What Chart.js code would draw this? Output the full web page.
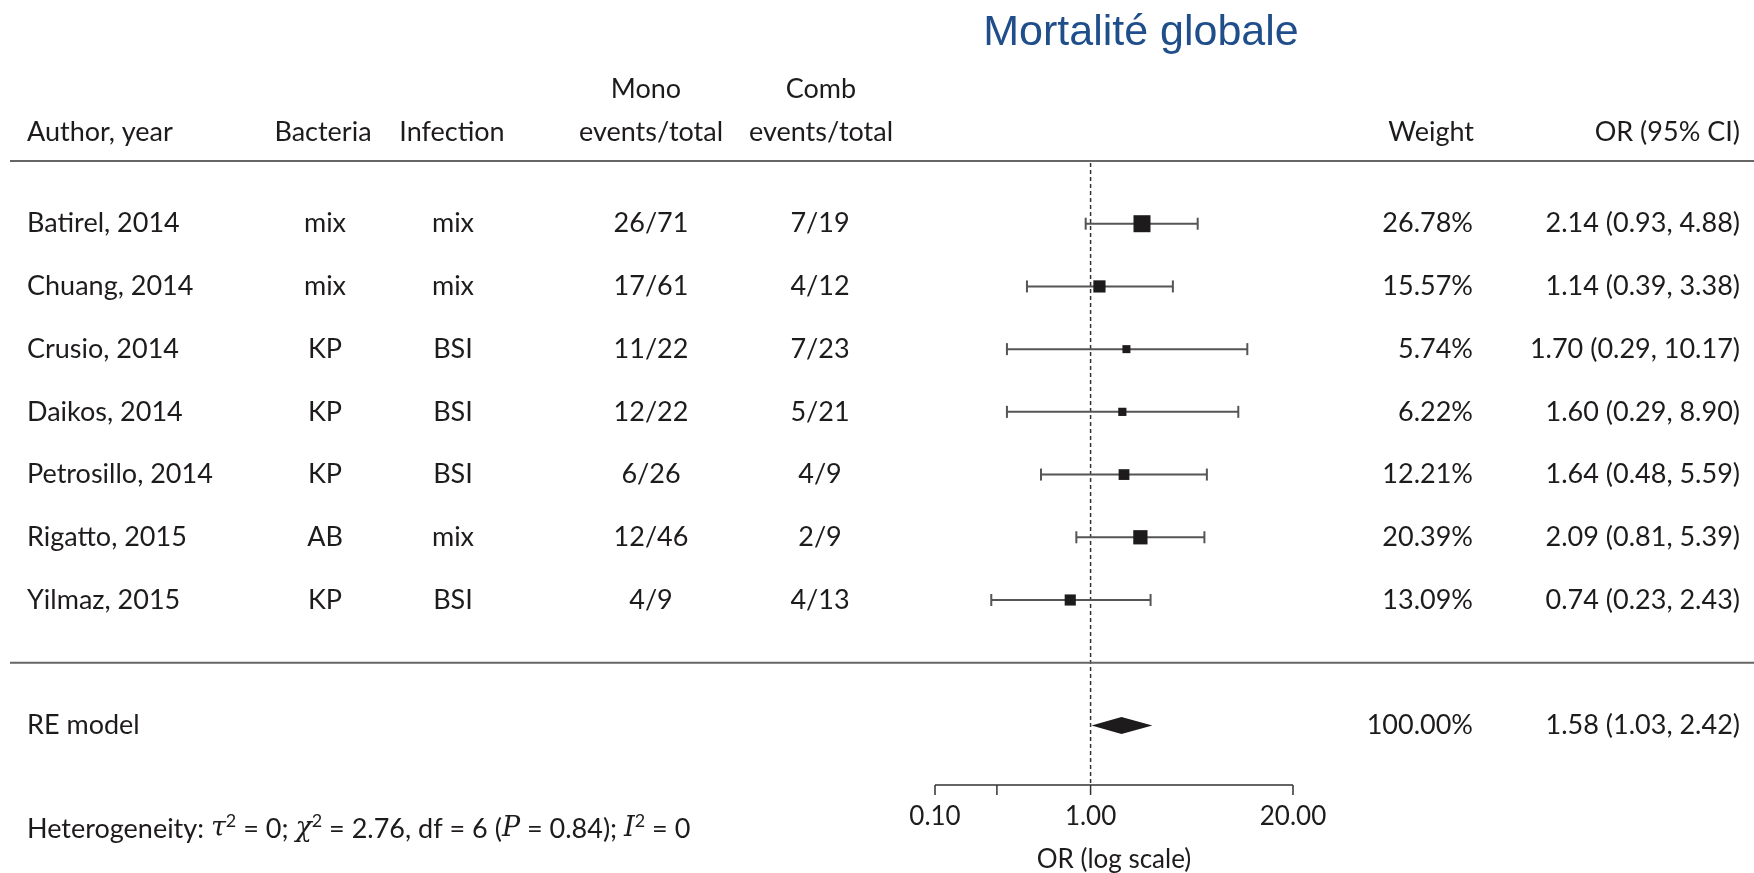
<!DOCTYPE html>
<html>
<head>
<meta charset="utf-8">
<script src="https://cdn.jsdelivr.net/npm/chart.js@4.4.1/dist/chart.umd.min.js"></script>
<style>
  html, body { margin: 0; padding: 0; background: #fff; }
  #forest { display: block; }
</style>
</head>
<body>
<canvas id="forest" width="1754" height="873"></canvas>
<script>
// study rows
const authors = ['Batirel, 2014', 'Chuang, 2014', 'Crusio, 2014', 'Daikos, 2014', 'Petrosillo, 2014', 'Rigatto, 2015', 'Yilmaz, 2015'];
const bacteria = ['mix', 'mix', 'KP', 'KP', 'KP', 'AB', 'KP'];
const infection = ['mix', 'mix', 'BSI', 'BSI', 'BSI', 'mix', 'BSI'];
const monoEvents = ['26/71', '17/61', '11/22', '12/22', '6/26', '12/46', '4/9'];
const combEvents = ['7/19', '4/12', '7/23', '5/21', '4/9', '2/9', '4/13'];
const weights = [26.78, 15.57, 5.74, 6.22, 12.21, 20.39, 13.09];
const orValues = [2.14, 1.14, 1.70, 1.60, 1.64, 2.09, 0.74];
const ciLow = [0.93, 0.39, 0.29, 0.29, 0.48, 0.81, 0.23];
const ciHigh = [4.88, 3.38, 10.17, 8.90, 5.59, 5.39, 2.43];

// random effects summary: OR, lower, upper
const pooled = [1.58, 1.03, 2.42];
const pooledWeight = 100;

const tickValues = [0.1, 0.25, 1, 20];
const tickLabels = ['0.10', '', '1.00', '20.00'];

const FONT = 'Lato, "Noto Sans", sans-serif';
const TXT = '#1e1b1c';
const pooledRow = authors.length + 1;

function fmt(v) { return v.toFixed(2); }

// square side grows with weight
const wMin = Math.min(...weights), wMax = Math.max(...weights);
function side(w) { return 8 + (w - wMin) / (wMax - wMin) * 9; }

const ciSets = authors.map((a, i) => ({
  data: [{x: ciLow[i], y: i}, {x: ciHigh[i], y: i}],
  showLine: true,
  borderColor: '#555',
  borderWidth: 2,
  pointStyle: 'line',
  rotation: 90,
  pointRadius: 6,
  pointBorderWidth: 2,
  pointBorderColor: '#555'
}));

const squares = {
  data: orValues.map((v, i) => ({x: v, y: i})),
  pointStyle: 'rect',
  pointRadius: c => side(weights[c.dataIndex]) / Math.SQRT2,
  backgroundColor: TXT,
  borderColor: TXT,
  borderWidth: 0
};

const refLine = {
  data: [{x: 1, y: -0.97}, {x: 1, y: 8.95}],
  showLine: true,
  borderColor: '#333',
  borderWidth: 1.5,
  borderDash: [4, 3],
  pointRadius: 0
};

const tablePlugin = {
  id: 'table',
  afterDraw(chart) {
    const ctx = chart.ctx;
    const xs = chart.scales.x, ys = chart.scales.y;
    const area = chart.chartArea;
    ctx.save();

    // title
    ctx.fillStyle = '#1f4e8a';
    ctx.font = '43px "Liberation Sans", Arial, sans-serif';
    ctx.textAlign = 'center';
    ctx.textBaseline = 'alphabetic';
    ctx.fillText('Mortalité globale', 1141, 45);

    // header
    ctx.fillStyle = TXT;
    ctx.font = '27px ' + FONT;
    ctx.textBaseline = 'middle';
    ctx.textAlign = 'left';
    ctx.fillText('Author, year', 27, 132);
    ctx.textAlign = 'center';
    ctx.fillText('Bacteria', 323, 132);
    ctx.fillText('Infection', 452, 132);
    ctx.fillText('Mono', 646, 89);
    ctx.fillText('events/total', 651, 132);
    ctx.fillText('Comb', 821, 89);
    ctx.fillText('events/total', 821, 132);
    ctx.textAlign = 'right';
    ctx.fillText('Weight', 1474, 132);
    ctx.fillText('OR (95% CI)', 1740, 132);

    // rules
    ctx.strokeStyle = '#666';
    ctx.lineWidth = 2;
    ctx.beginPath();
    ctx.moveTo(10, area.top); ctx.lineTo(1754, area.top);
    const sepY = ys.getPixelForValue(authors.length);
    ctx.moveTo(10, sepY); ctx.lineTo(1754, sepY);
    ctx.stroke();

    // study rows
    ctx.font = '27px ' + FONT;
    authors.forEach((a, i) => {
      const y = ys.getPixelForValue(i);
      ctx.textAlign = 'left';
      ctx.fillText(a, 27, y);
      ctx.textAlign = 'center';
      ctx.fillText(bacteria[i], 325, y);
      ctx.fillText(infection[i], 453, y);
      ctx.fillText(monoEvents[i], 651, y);
      ctx.fillText(combEvents[i], 820, y);
      ctx.textAlign = 'right';
      ctx.fillText(fmt(weights[i]) + '%', 1473, y);
      ctx.fillText(fmt(orValues[i]) + ' (' + fmt(ciLow[i]) + ', ' + fmt(ciHigh[i]) + ')', 1740, y);
    });

    // pooled row
    const py = ys.getPixelForValue(pooledRow);
    ctx.textAlign = 'left';
    ctx.fillText('RE model', 27, py);
    ctx.textAlign = 'right';
    ctx.fillText(fmt(pooledWeight) + '%', 1473, py);
    ctx.fillText(fmt(pooled[0]) + ' (' + fmt(pooled[1]) + ', ' + fmt(pooled[2]) + ')', 1740, py);

    // diamond
    const half = 8.5;
    ctx.fillStyle = TXT;
    ctx.beginPath();
    ctx.moveTo(xs.getPixelForValue(pooled[1]) - 1, py);
    ctx.lineTo(xs.getPixelForValue(pooled[0]), py - half);
    ctx.lineTo(xs.getPixelForValue(pooled[2]) + 2, py);
    ctx.lineTo(xs.getPixelForValue(pooled[0]), py + half);
    ctx.closePath();
    ctx.fill();

    // x axis
    const ay = area.bottom;
    ctx.strokeStyle = '#333';
    ctx.lineWidth = 1.5;
    ctx.beginPath();
    ctx.moveTo(xs.getPixelForValue(tickValues[0]), ay);
    ctx.lineTo(xs.getPixelForValue(tickValues[tickValues.length - 1]), ay);
    tickValues.forEach(t => {
      const x = xs.getPixelForValue(t);
      ctx.moveTo(x, ay); ctx.lineTo(x, ay + 10);
    });
    ctx.stroke();
    ctx.fillStyle = TXT;
    ctx.textAlign = 'center';
    ctx.font = '26px ' + FONT;
    tickValues.forEach((t, i) => {
      if (tickLabels[i]) ctx.fillText(tickLabels[i], xs.getPixelForValue(t), ay + 32);
    });
    ctx.fillText('OR (log scale)', (area.left + area.right) / 2, ay + 75);

    // heterogeneity note
    const parts = [
      ['Heterogeneity: ', 'n'], ['τ', 'i'], ['2', 's'], [' = 0; ', 'n'],
      ['χ', 'i'], ['2', 's'], [' = 2.76, df = 6 (', 'n'],
      ['P', 'i'], [' = 0.84); ', 'n'], ['I', 'i'], ['2', 's'], [' = 0', 'n']
    ];
    let hx = 27;
    const hy = 829;
    ctx.textAlign = 'left';
    parts.forEach(([s, k]) => {
      if (k === 'n') ctx.font = '27px ' + FONT;
      if (k === 'i') ctx.font = 'italic 27px "DejaVu Serif", serif';
      if (k === 's') ctx.font = '18px ' + FONT;
      ctx.fillText(s, hx, k === 's' ? hy - 8 : hy);
      hx += ctx.measureText(s).width;
    });

    ctx.restore();
  }
};

new Chart(document.getElementById('forest'), {
  type: 'scatter',
  data: { datasets: [squares, ...ciSets, refLine] },
  options: {
    responsive: false,
    animation: false,
    layout: { padding: { left: 935, right: 1754 - 1293, top: 161, bottom: 873 - 785 } },
    scales: {
      x: { type: 'logarithmic', min: 0.1, max: 20, display: false },
      y: { type: 'linear', min: -1, max: 8.95, reverse: true, display: false }
    },
    plugins: { legend: { display: false }, tooltip: { enabled: false } }
  },
  plugins: [tablePlugin]
});
</script>
</body>
</html>
